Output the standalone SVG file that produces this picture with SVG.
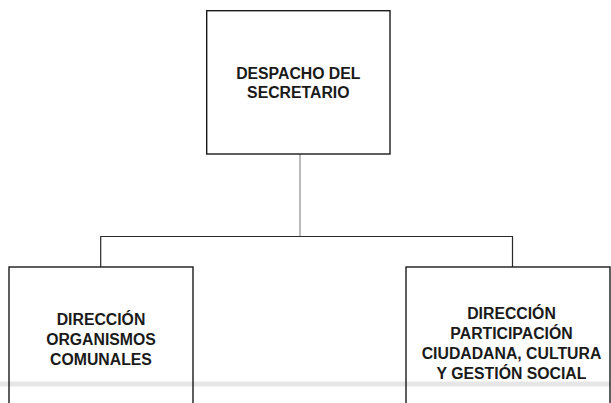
<svg xmlns="http://www.w3.org/2000/svg" width="611" height="403" viewBox="0 0 611 403">
<style>
.box{fill:none;stroke:#1a1a1a;stroke-width:1.4}
.conn{fill:none;stroke:#2a2a2a;stroke-width:1.2}
.lbl{font-family:"Liberation Sans",Arial,sans-serif;font-weight:bold;font-size:15.8px;fill:#1a1a1a;text-anchor:middle}
</style>
<rect width="611" height="403" fill="#ffffff"/>
<rect x="0" y="381.5" width="611" height="5" fill="#e6e6e6"/>
<g id="connectors">
<path class="conn" d="M300,154 V236.5" stroke="#777" style="stroke:#777;stroke-width:1"/>
<path class="conn" d="M100.7,267 V236.5 H512.5 V267"/>
</g>
<g id="despacho">
<rect class="box" x="206.7" y="10.7" width="183.3" height="143.3"/>
<text class="lbl" x="298.3" y="79">DESPACHO DEL</text>
<text class="lbl" x="298.3" y="97.7">SECRETARIO</text>
</g>
<g id="organismos">
<rect class="box" x="9" y="267" width="184" height="150"/>
<text class="lbl" x="101" y="324.5">DIRECCIÓN</text>
<text class="lbl" x="101" y="344.8">ORGANISMOS</text>
<text class="lbl" x="101" y="364.5">COMUNALES</text>
</g>
<g id="participacion">
<rect class="box" x="406" y="267" width="204" height="150"/>
<text class="lbl" x="511.5" y="319.3">DIRECCIÓN</text>
<text class="lbl" x="511.5" y="339.3">PARTICIPACIÓN</text>
<text class="lbl" x="511.5" y="359.3">CIUDADANA, CULTURA</text>
<text class="lbl" x="511.5" y="378.5">Y GESTIÓN SOCIAL</text>
</g>
</svg>
